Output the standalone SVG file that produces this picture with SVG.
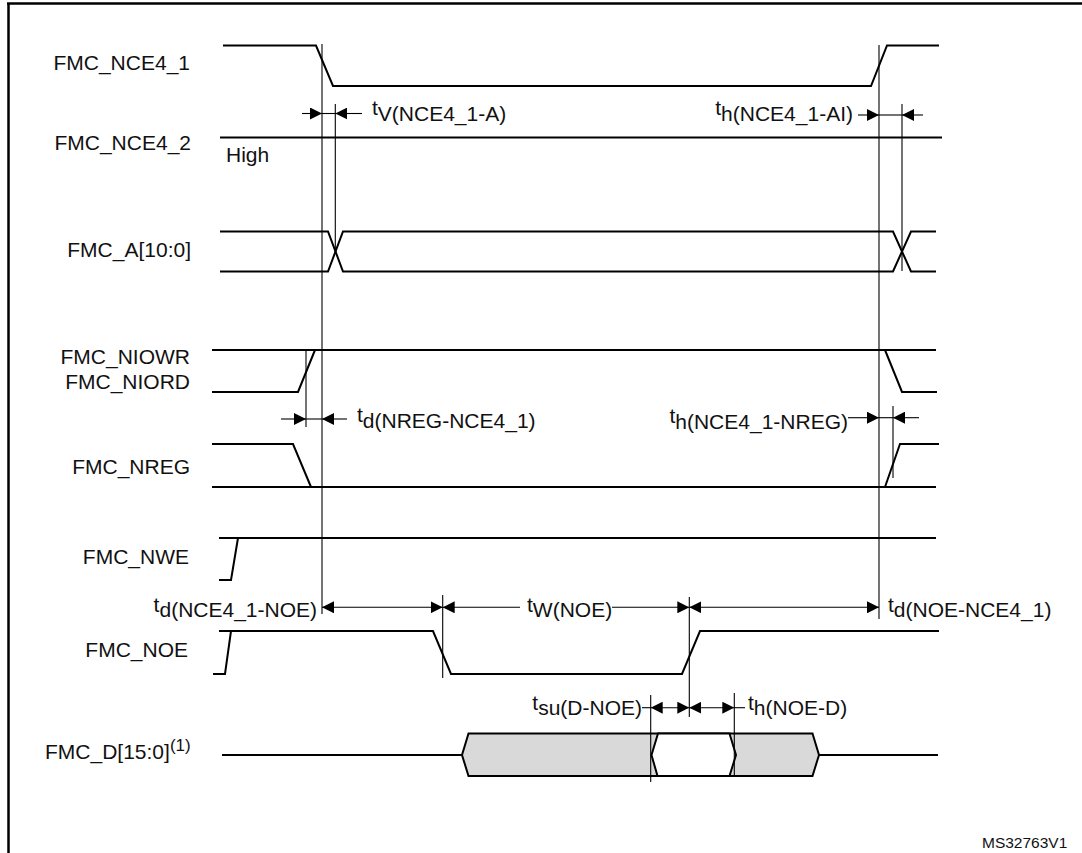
<svg xmlns="http://www.w3.org/2000/svg" width="1082" height="853" viewBox="0 0 1082 853">
<style>
.sig{fill:none;stroke:#000;stroke-width:2;stroke-linejoin:miter}
.vl{stroke:#000;stroke-width:1.1;fill:none}
.ar{stroke:#000;stroke-width:1.1;fill:none}
.arr{stroke:#000;stroke-width:1.1;fill:none;marker-end:url(#ah)}
.arb{stroke:#000;stroke-width:1.1;fill:none;marker-start:url(#ah);marker-end:url(#ah)}
.lbl{font-family:"Liberation Sans",Arial,sans-serif;font-size:21px;fill:#111;text-anchor:end}
.t{font-family:"Liberation Sans",Arial,sans-serif;font-size:21px;fill:#111}
</style>
<defs>
<marker id="ah" viewBox="0 0 12 12" refX="12" refY="6" markerWidth="12" markerHeight="12" markerUnits="userSpaceOnUse" orient="auto-start-reverse">
<path d="M0,0 L12,6 L0,12 z" fill="#000"/>
</marker>
</defs>
<rect width="1082" height="853" fill="#fff"/>
<g id="frame">
<line x1="7" y1="3.5" x2="1082" y2="3.5" stroke="#000" stroke-width="2.5"/>
<line x1="8.5" y1="3" x2="8.5" y2="853" stroke="#000" stroke-width="2.5"/>
</g>
<g id="nce4_1">
<text class="lbl" x="190" y="70">FMC_NCE4_1</text>
<polyline class="sig" points="223,45.5 316,45.5 333,86 871,86 887,45.5 939,45.5"/>
</g>
<g id="nce4_2">
<text class="lbl" x="191" y="150">FMC_NCE4_2</text>
<line class="sig" x1="220" y1="137.5" x2="942" y2="137.5"/>
<text class="t" x="226" y="162">High</text>
</g>
<g id="addr">
<text class="lbl" x="191" y="257">FMC_A[10:0]</text>
<polyline class="sig" points="220,231.5 328,231.5 343,271.5 893,271.5 911,231.5 936,231.5"/>
<polyline class="sig" points="220,271.5 328,271.5 343,231.5 893,231.5 911,271.5 936,271.5"/>
</g>
<g id="niowr">
<text class="lbl" x="190" y="364">FMC_NIOWR</text>
<text class="lbl" x="190" y="389">FMC_NIORD</text>
<polyline class="sig" points="212,392 298,392 315,350"/>
<line class="sig" x1="212" y1="350" x2="936" y2="350"/>
<polyline class="sig" points="885,350 902,392 937,392"/>
</g>
<g id="nreg">
<text class="lbl" x="190" y="474">FMC_NREG</text>
<polyline class="sig" points="212,444 293,444 311,487"/>
<line class="sig" x1="212" y1="487" x2="936" y2="487"/>
<polyline class="sig" points="885,487 900,444 939,444"/>
</g>
<g id="nwe">
<text class="lbl" x="189" y="564">FMC_NWE</text>
<polyline class="sig" points="219,580 231,580 238,538"/>
<line class="sig" x1="219" y1="538" x2="936" y2="538"/>
</g>
<g id="noe">
<text class="lbl" x="188" y="657">FMC_NOE</text>
<polyline class="sig" points="213,674 225,674 231,631"/>
<polyline class="sig" points="219,631 433,631 451,674 682,674 700,631 939,631"/>
</g>
<g id="data">
<text class="t" x="45" y="759">FMC_D[15:0]<tspan dy="-8" font-size="17">(1)</tspan></text>
<line class="sig" x1="222" y1="755" x2="462" y2="755"/>
<polygon points="462,755 468.5,733.5 812.5,733.5 819,755 812.5,776 468.5,776" fill="#d9d9d9" stroke="#000" stroke-width="2"/>
<polygon points="651.5,755 658,733.5 729.5,733.5 736,755 729.5,776 657.5,776" fill="#fff" stroke="#000" stroke-width="2"/>
<line class="sig" x1="819" y1="755" x2="938" y2="755"/>
</g>
<g id="connectors">
<line class="vl" x1="322" y1="44" x2="322" y2="614"/>
<line class="vl" x1="335.3" y1="104" x2="335.3" y2="250"/>
<line class="vl" x1="879" y1="45" x2="879" y2="619"/>
<line class="vl" x1="902" y1="104" x2="902" y2="271"/>
<line class="vl" x1="306" y1="350" x2="306" y2="427"/>
<line class="vl" x1="893" y1="406" x2="893" y2="478"/>
<line class="vl" x1="442.7" y1="595" x2="442.7" y2="678"/>
<line class="vl" x1="689.3" y1="597" x2="689.3" y2="717"/>
<line class="vl" x1="650.7" y1="695" x2="650.7" y2="782"/>
<line class="vl" x1="734.3" y1="693" x2="734.3" y2="777"/>
<line class="arr" x1="302" y1="113.5" x2="322" y2="113.5"/>
<line class="ar" x1="322" y1="113.5" x2="335.3" y2="113.5"/>
<line class="arr" x1="362" y1="113.5" x2="335.3" y2="113.5"/>
<line class="arr" x1="858" y1="115" x2="879" y2="115"/>
<line class="ar" x1="879" y1="115" x2="902" y2="115"/>
<line class="arr" x1="923" y1="115" x2="902" y2="115"/>
<line class="arr" x1="281" y1="419" x2="306" y2="419"/>
<line class="ar" x1="306" y1="419" x2="322" y2="419"/>
<line class="arr" x1="347" y1="419" x2="322" y2="419"/>
<line class="arr" x1="848" y1="417.7" x2="879" y2="417.7"/>
<line class="ar" x1="879" y1="417.7" x2="893" y2="417.7"/>
<line class="arr" x1="919" y1="417.7" x2="893" y2="417.7"/>
<line class="arb" x1="322" y1="607.3" x2="442.7" y2="607.3"/>
<line class="arr" x1="520" y1="607.3" x2="442.7" y2="607.3"/>
<line class="arr" x1="612" y1="607.3" x2="689.3" y2="607.3"/>
<line class="arb" x1="689.3" y1="607.3" x2="879" y2="607.3"/>
<line class="ar" x1="642" y1="707.7" x2="650.7" y2="707.7"/>
<line class="arb" x1="650.7" y1="707.7" x2="689.3" y2="707.7"/>
<line class="arb" x1="689.3" y1="707.7" x2="734.3" y2="707.7"/>
<line class="ar" x1="734.3" y1="707.7" x2="745" y2="707.7"/>
<text class="t" x="372" y="115">t<tspan dy="6">V(NCE4_1-A)</tspan></text>
<text class="t" x="853" y="115" text-anchor="end">t<tspan dy="6">h(NCE4_1-AI)</tspan></text>
<text class="t" x="357" y="422">t<tspan dy="6">d(NREG-NCE4_1)</tspan></text>
<text class="t" x="848" y="423" text-anchor="end">t<tspan dy="6">h(NCE4_1-NREG)</tspan></text>
<text class="t" x="317" y="612" text-anchor="end">t<tspan dy="5">d(NCE4_1-NOE)</tspan></text>
<text class="t" x="527" y="612">t<tspan dy="5">W(NOE)</tspan></text>
<text class="t" x="888" y="612">t<tspan dy="5">d(NOE-NCE4_1)</tspan></text>
<text class="t" x="642" y="710" text-anchor="end">t<tspan dy="5">su(D-NOE)</tspan></text>
<text class="t" x="748" y="710">t<tspan dy="5">h(NOE-D)</tspan></text>
</g>
<text x="982" y="848" font-family="'Liberation Sans',Arial,sans-serif" font-size="15.5" fill="#111">MS32763V1</text>
</svg>
